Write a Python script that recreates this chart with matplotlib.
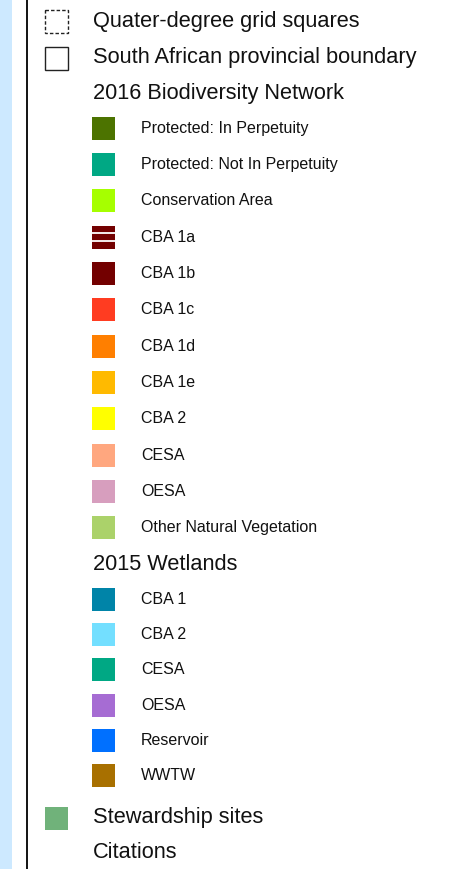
import matplotlib
matplotlib.use("Agg")
import matplotlib.pyplot as plt
from matplotlib.patches import Rectangle

plt.rcParams['font.family'] = ['Liberation Sans', 'DejaVu Sans']

# Legend content
top_labels = ["Quater-degree grid squares", "South African provincial boundary"]
top_styles = ["dashed", "solid"]

bio_title = "2016 Biodiversity Network"
bio_labels = ["Protected: In Perpetuity", "Protected: Not In Perpetuity", "Conservation Area",
              "CBA 1a", "CBA 1b", "CBA 1c", "CBA 1d", "CBA 1e", "CBA 2", "CESA", "OESA",
              "Other Natural Vegetation"]
bio_colors = ["#4C7300", "#00A884", "#A6FF00", "#730000", "#730000", "#FF3C21", "#FF7F00",
              "#FFBA00", "#FFFF00", "#FFA77F", "#D79EBE", "#ABD26A"]
bio_hatched = [False, False, False, True, False, False, False, False, False, False, False, False]

wet_title = "2015 Wetlands"
wet_labels = ["CBA 1", "CBA 2", "CESA", "OESA", "Reservoir", "WWTW"]
wet_colors = ["#0084A8", "#73DFFF", "#00A884", "#A66CD3", "#0070FF", "#A87000"]

stew_label = "Stewardship sites"
stew_color = "#70B27A"
cit_label = "Citations"

W, H = 462, 869
fig = plt.figure(figsize=(W / 100, H / 100), dpi=100)
ax = fig.add_axes([0, 0, 1, 1])
ax.set_xlim(0, W)
ax.set_ylim(H, 0)
ax.axis("off")

# left side bar
ax.add_patch(Rectangle((0, 0), 12, H, facecolor="#CDE9FF", edgecolor="none"))
ax.plot([26.5, 26.5], [0, H], color="black", lw=1.3)

big = 15.7
small = 11.5
sw = 23
step = 36

# top entries
y = 21
for lab, st in zip(top_labels, top_styles):
    ax.add_patch(Rectangle((45, y - 11), sw, sw, facecolor="white", edgecolor="#222222",
                           lw=1.0, linestyle=(0, (2.5, 1.5)) if st == "dashed" else "solid"))
    ax.text(93, y, lab, fontsize=big, va="center", ha="left", color="#111111")
    y += 36.5

ax.text(93, 93, bio_title, fontsize=big, va="center", ha="left", color="#111111")
y = 128
for lab, col, hat in zip(bio_labels, bio_colors, bio_hatched):
    ax.add_patch(Rectangle((92, y - 11.5), sw, sw, facecolor=col, edgecolor="none"))
    if hat:
        for yy in (y - 3.8, y + 3.8):
            ax.plot([92, 92 + sw], [yy, yy], color="white", lw=1.3)
    ax.text(141, y, lab, fontsize=small, va="center", ha="left", color="#111111")
    y += step + 0.35

ax.text(93, 564, wet_title, fontsize=big, va="center", ha="left", color="#111111")
y = 599
for lab, col in zip(wet_labels, wet_colors):
    ax.add_patch(Rectangle((92, y - 11.5), sw, sw, facecolor=col, edgecolor="none"))
    ax.text(141, y, lab, fontsize=small, va="center", ha="left", color="#111111")
    y += 35.4

ax.add_patch(Rectangle((45, 818 - 11.5), sw, sw, facecolor=stew_color, edgecolor="none"))
ax.text(93, 818, stew_label, fontsize=big, va="center", ha="left", color="#111111")
ax.text(93, 853, cit_label, fontsize=big, va="center", ha="left", color="#111111")

fig.savefig("out.png", dpi=100, facecolor="white")
